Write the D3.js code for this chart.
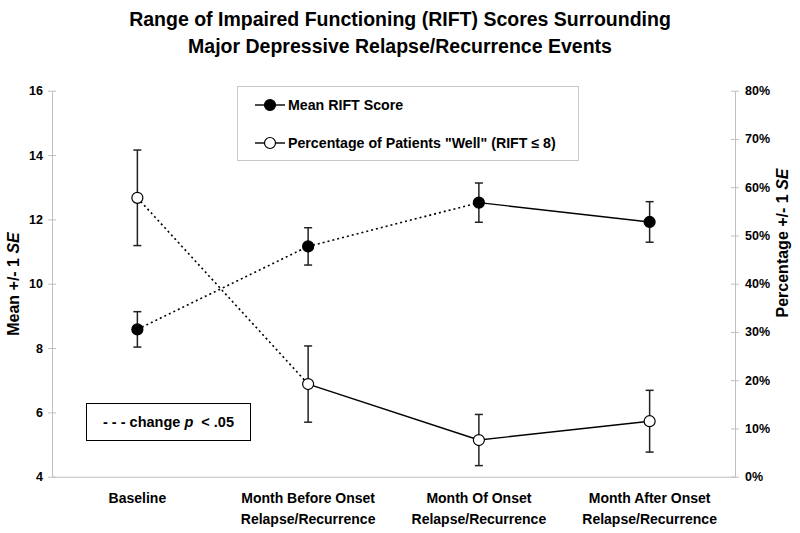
<!DOCTYPE html>
<html><head><meta charset="utf-8">
<script src="https://cdn.jsdelivr.net/npm/d3@7/dist/d3.min.js"></script>
<style>body{margin:0;background:#fff}</style>
</head><body><svg id="c" width="800" height="533"></svg>
<script>
const titleLines = ["Range of Impaired Functioning (RIFT) Scores Surrounding", "Major Depressive Relapse/Recurrence Events"];
const categories = [["Baseline"], ["Month Before Onset", "Relapse/Recurrence"], ["Month Of Onset", "Relapse/Recurrence"], ["Month After Onset", "Relapse/Recurrence"]];
const meanRift = [8.58, 11.16, 12.52, 11.92];
const meanRiftSE = [0.55, 0.58, 0.61, 0.63];
const pctWell = [57.8, 19.2, 7.6, 11.5];
const pctWellSE = [9.9, 7.9, 5.3, 6.4];
const meanSegmentSignificant = [true, true, false];
const pctSegmentSignificant = [true, false, false];
const leftTicks = [4, 6, 8, 10, 12, 14, 16];
const rightTicks = [0, 10, 20, 30, 40, 50, 60, 70, 80];
const rightTickLabels = ["0%", "10%", "20%", "30%", "40%", "50%", "60%", "70%", "80%"];
const seriesNames = ["Mean RIFT Score", "Percentage of Patients \"Well\" (RIFT \u2264 8)"];

const FONT = "'Liberation Sans', Arial, Helvetica, sans-serif";
const svg = d3.select("#c").style("font-family", FONT);
const L = 52, R = 735, T = 90.7, B = 476.7;

const x = d3.scaleBand().domain(d3.range(categories.length)).range([L, R]).padding(0);
const cx = i => x(i) + x.bandwidth() / 2;
const yL = d3.scaleLinear().domain([4, 16]).range([B, T]);
const yR = d3.scaleLinear().domain([0, 80]).range([B, T]);

// Title
svg.append("g").selectAll("text").data(titleLines).join("text")
  .attr("x", 400).attr("y", (d, i) => 26 + i * 27)
  .attr("text-anchor", "middle").attr("font-weight", "bold").attr("font-size", 19.5)
  .text(d => d);

const axisColor = "#c0c0c0";
const gl = svg.append("g").attr("transform", `translate(${L},0)`)
  .call(d3.axisLeft(yL).tickValues(leftTicks).tickSizeInner(4).tickSizeOuter(0).tickPadding(5).tickFormat(d3.format("d")));
const gr = svg.append("g").attr("transform", `translate(${R},0)`)
  .call(d3.axisRight(yR).tickValues(rightTicks).tickSizeInner(4).tickSizeOuter(0).tickPadding(6).tickFormat((d, i) => rightTickLabels[i]));
const gb = svg.append("g").attr("transform", `translate(0,${B})`)
  .call(d3.axisBottom(x).tickValues([]).tickSizeOuter(0));
[gl, gr, gb].forEach(g => {
  g.select(".domain").attr("stroke", axisColor);
  g.selectAll(".tick line").attr("stroke", axisColor).attr("x1", -4).attr("x2", 4);
  g.selectAll(".tick text").attr("font-family", FONT).attr("font-weight", "bold").attr("font-size", 12.5).attr("fill", "#000");
});

// Axis titles
const lt = svg.append("text").attr("transform", `translate(19,284) rotate(-90)`)
  .attr("text-anchor", "middle").attr("font-weight", "bold").attr("font-size", 16);
lt.append("tspan").text("Mean +/- 1 ");
lt.append("tspan").attr("font-style", "italic").text("SE");
const rt = svg.append("text").attr("transform", `translate(788,243) rotate(-90)`)
  .attr("text-anchor", "middle").attr("font-weight", "bold").attr("font-size", 16);
rt.append("tspan").text("Percentage +/- 1 ");
rt.append("tspan").attr("font-style", "italic").text("SE");

// Category labels
const cl = svg.append("g").selectAll("text").data(categories).join("text")
  .attr("text-anchor", "middle").attr("font-weight", "bold").attr("font-size", 14);
cl.selectAll("tspan").data((d, i) => d.map(t => ({t, i}))).join("tspan")
  .attr("x", d => cx(d.i)).attr("y", (d, j) => 503 + j * 21).text(d => d.t);

function drawSeries(vals, ses, sig, scale, fill) {
  const g = svg.append("g");
  const segs = d3.range(vals.length - 1).map(i => ({i, dotted: sig[i]}));
  g.selectAll("line.seg").data(segs).join("line").attr("class", "seg")
    .attr("x1", d => cx(d.i)).attr("y1", d => scale(vals[d.i]))
    .attr("x2", d => cx(d.i + 1)).attr("y2", d => scale(vals[d.i + 1]))
    .attr("stroke", "#000").attr("stroke-width", d => d.dotted ? 1.6 : 1.4)
    .attr("stroke-dasharray", d => d.dotted ? "2,3" : null);
  const eb = g.selectAll("g.eb").data(vals).join("g").attr("class", "eb");
  eb.append("line").attr("x1", (d, i) => cx(i)).attr("x2", (d, i) => cx(i))
    .attr("y1", (d, i) => scale(d - ses[i])).attr("y2", (d, i) => scale(d + ses[i]));
  eb.append("line").attr("x1", (d, i) => cx(i) - 4).attr("x2", (d, i) => cx(i) + 4)
    .attr("y1", (d, i) => scale(d + ses[i])).attr("y2", (d, i) => scale(d + ses[i]));
  eb.append("line").attr("x1", (d, i) => cx(i) - 4).attr("x2", (d, i) => cx(i) + 4)
    .attr("y1", (d, i) => scale(d - ses[i])).attr("y2", (d, i) => scale(d - ses[i]));
  eb.selectAll("line").attr("stroke", "#222").attr("stroke-width", 1.5);
  g.selectAll("circle").data(vals).join("circle")
    .attr("cx", (d, i) => cx(i)).attr("cy", d => scale(d)).attr("r", 5.5)
    .attr("fill", fill).attr("stroke", "#000").attr("stroke-width", 1.2);
}
drawSeries(pctWell, pctWellSE, pctSegmentSignificant, yR, "#fff");
drawSeries(meanRift, meanRiftSE, meanSegmentSignificant, yL, "#000");

// Legend
const lg = svg.append("g");
lg.append("rect").attr("x", 237.5).attr("y", 86.5).attr("width", 341).attr("height", 74)
  .attr("fill", "#fff").attr("stroke", "#c8c8c8");
const items = lg.selectAll("g.it").data(seriesNames).join("g").attr("class", "it")
  .attr("transform", (d, i) => `translate(0,${105 + i * 38})`);
items.append("line").attr("x1", 255).attr("x2", 285).attr("stroke", "#000").attr("stroke-width", 1.4);
items.append("circle").attr("cx", 270).attr("r", 5.5).attr("fill", (d, i) => i === 0 ? "#000" : "#fff")
  .attr("stroke", "#000").attr("stroke-width", 1.2);
items.append("text").attr("x", 288).attr("y", 5).attr("font-weight", "bold").attr("font-size", 14.2).text(d => d);

// Significance note box
const nb = svg.append("g");
nb.append("rect").attr("x", 86.5).attr("y", 403.5).attr("width", 164).attr("height", 37)
  .attr("fill", "#fff").attr("stroke", "#000");
const nt = nb.append("text").attr("x", 103).attr("y", 427).attr("font-weight", "bold").attr("font-size", 14.5);
nt.append("tspan").text("- - - change ");
nt.append("tspan").attr("font-style", "italic").text("p");
nt.append("tspan").text("  < .05").attr("xml:space", "preserve");
</script></body></html>
